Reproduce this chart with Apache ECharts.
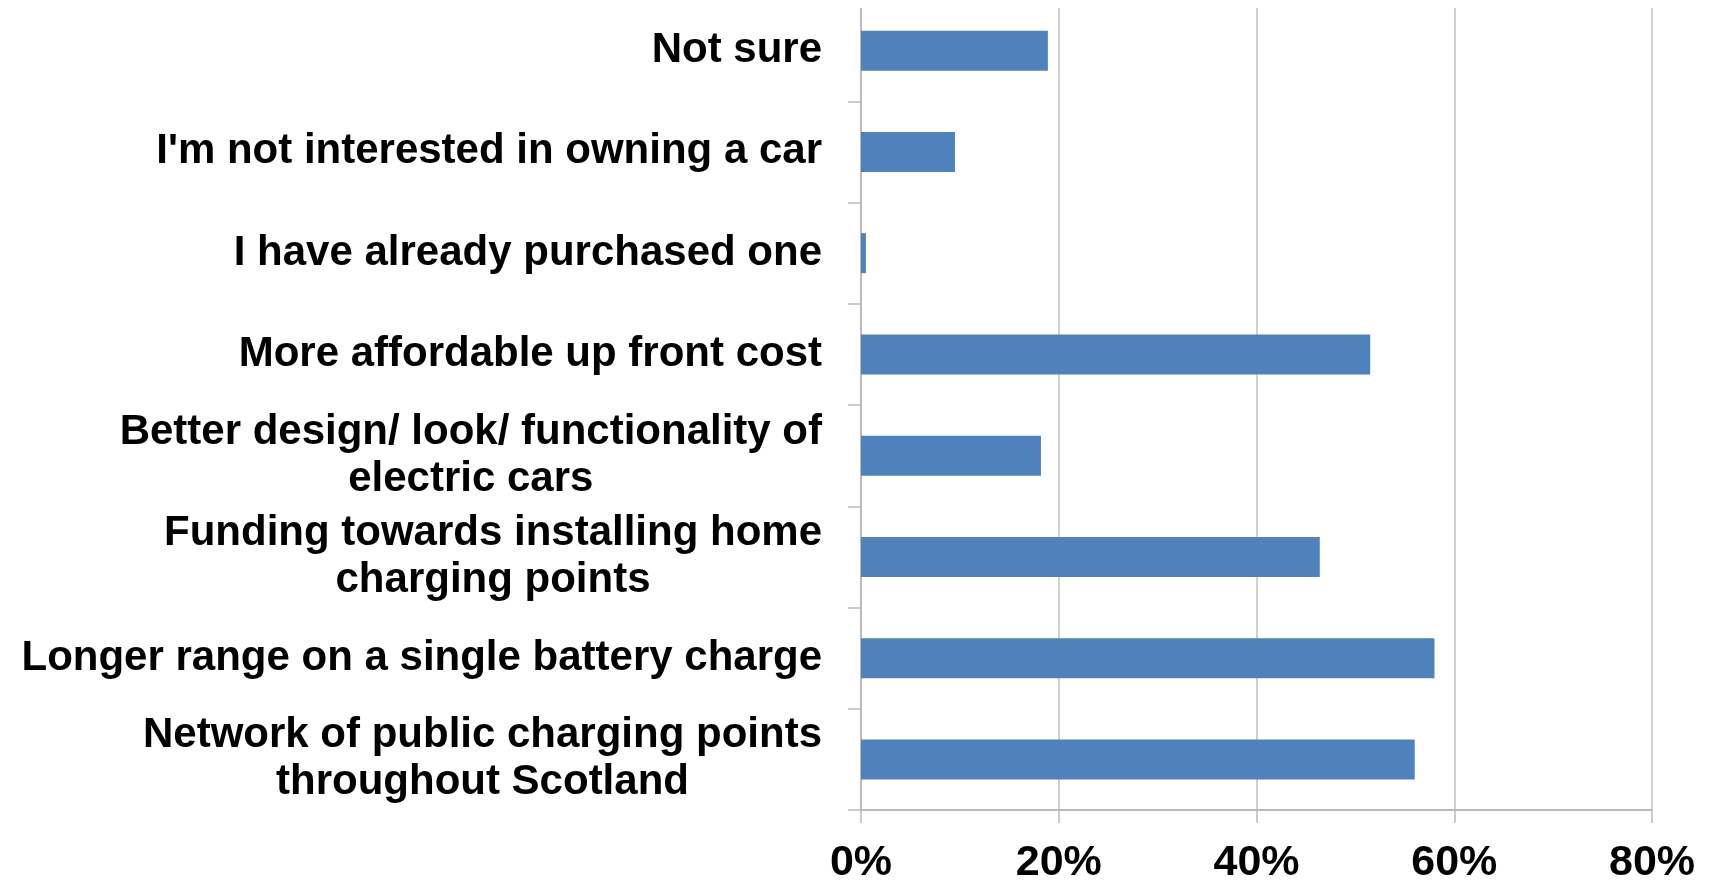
<!DOCTYPE html>
<html>
<head>
<meta charset="utf-8">
<script src="https://cdn.jsdelivr.net/npm/echarts@6/dist/echarts.min.js"></script>
<style>
html,body{margin:0;padding:0;background:#fff;}
#chart{width:1709px;height:885px;}
</style>
</head>
<body>
<div id="chart"></div>
<script>
const categories = [
  "Not sure",
  "I'm not interested in owning a car",
  "I have already purchased one",
  "More affordable up front cost",
  "Better design/ look/ functionality of\nelectric cars",
  "Funding towards installing home\ncharging points",
  "Longer range on a single battery charge",
  "Network of public charging points\nthroughout Scotland"
];
const values = [18.9, 9.5, 0.5, 51.5, 18.2, 46.4, 58.0, 56.0];
const xTicks = [0, 20, 40, 60, 80];

const FONT = "'Liberation Sans', Arial, Helvetica, sans-serif";
const chart = echarts.init(document.getElementById('chart'), null, {renderer: 'canvas'});
chart.setOption({
  backgroundColor: '#ffffff',
  animation: false,
  grid: {left: 861, right: 57, top: -14, bottom: 70, containLabel: false},
  xAxis: {
    type: 'value',
    min: xTicks[0],
    max: xTicks[xTicks.length - 1],
    interval: xTicks[1] - xTicks[0],
    axisLine: {show: true, lineStyle: {color: '#bababa', width: 2}},
    axisTick: {show: true, length: 13, lineStyle: {color: '#bababa', width: 1.5}},
    splitLine: {show: true, lineStyle: {color: '#c0c0c0', width: 1.5}},
    axisLabel: {
      formatter: '{value}%',
      color: '#000',
      fontFamily: FONT,
      fontWeight: 'bold',
      fontSize: 43,
      margin: 32
    }
  },
  yAxis: {
    type: 'category',
    inverse: true,
    data: categories,
    axisLine: {show: true, lineStyle: {color: '#bababa', width: 2}},
    axisTick: {show: true, length: 13, lineStyle: {color: '#bababa', width: 1.5}},
    splitLine: {show: false},
    axisLabel: {
      margin: 39,
      color: '#000',
      fontFamily: FONT,
      fontWeight: 'bold',
      fontSize: 42,
      lineHeight: 47,
      align: 'right',
      formatter: function (v) {
        return v.split('\n').map(function (s) { return '{c|' + s + '}'; }).join('\n');
      },
      rich: {
        c: {
          align: 'center',
          color: '#000',
          fontFamily: FONT,
          fontWeight: 'bold',
          fontSize: 42,
          lineHeight: 47
        }
      }
    }
  },
  series: [{
    type: 'bar',
    data: values,
    barWidth: 40,
    itemStyle: {color: '#4F81BD'}
  }],
  graphic: [{
    type: 'rect',
    left: 840,
    top: 0,
    shape: {width: 869, height: 8},
    style: {fill: '#ffffff'},
    z: 100
  }]
});
</script>
</body>
</html>
